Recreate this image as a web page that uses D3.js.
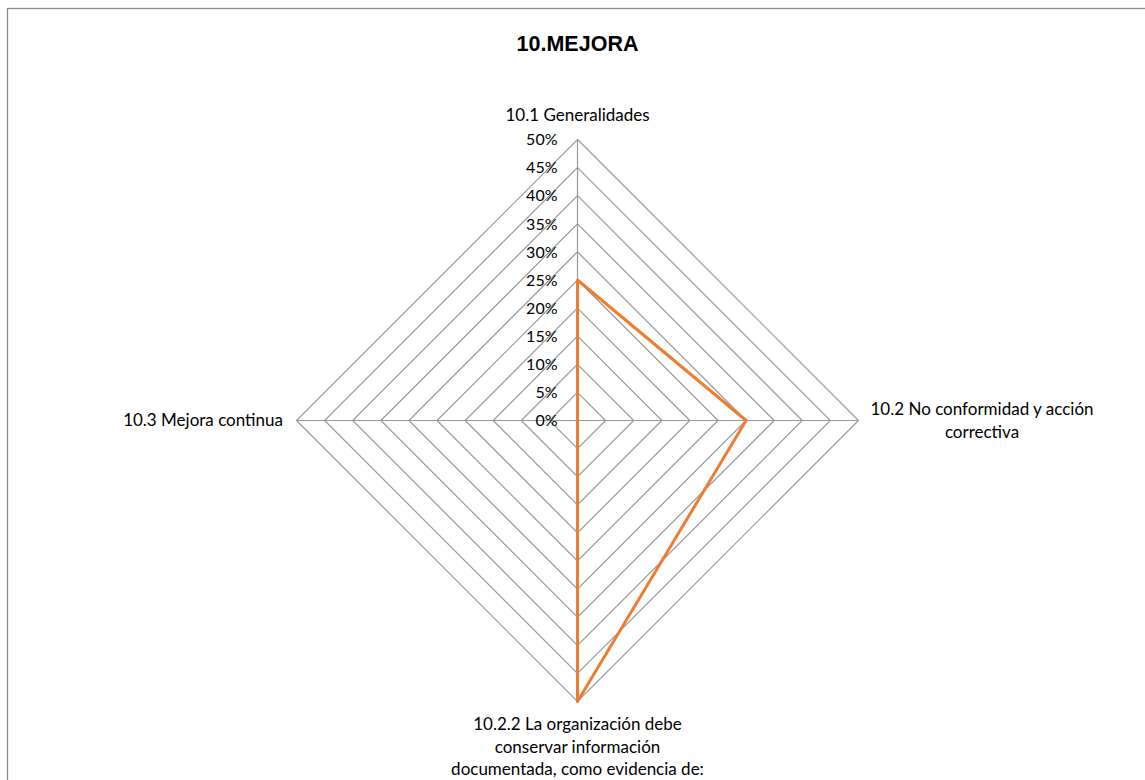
<!DOCTYPE html>
<html><head><meta charset="utf-8">
<script src="https://cdn.jsdelivr.net/npm/d3@7"></script>
<style>body{margin:0;background:#fff}svg{display:block}</style>
</head><body>
<svg id="c" width="1145" height="780"></svg>
<script>
const title = "10.MEJORA";
const categories = [
  ["10.1 Generalidades"],
  ["10.2 No conformidad y acción", "correctiva"],
  ["10.2.2 La organización debe", "conservar información", "documentada, como evidencia de:"],
  ["10.3 Mejora continua"]
];
const values = [0.25, 0.30, 0.50, 0.00];
const ticks = [0, 0.05, 0.10, 0.15, 0.20, 0.25, 0.30, 0.35, 0.40, 0.45, 0.50];

const svg = d3.select("#c");
const cx = 577.5, cy = 420.5, R = 281;
const r = d3.scaleLinear().domain([0, 0.5]).range([0, R]);
const ang = d3.scaleLinear().domain([0, categories.length]).range([0, 2 * Math.PI]);
const pt = (i, v) => [cx + r(v) * Math.sin(ang(i)), cy - r(v) * Math.cos(ang(i))];

svg.append("rect").attr("x", 7.5).attr("y", 8.5).attr("width", 1150).attr("height", 800)
  .attr("fill", "#fff").attr("stroke", "#8c8c8c").attr("stroke-width", 1.3);

svg.append("text").attr("x", cx).attr("y", 50.5).attr("text-anchor", "middle")
  .attr("font-family", "Liberation Sans, Arial, sans-serif").attr("font-weight", "bold")
  .attr("font-size", 21.5).attr("fill", "#000").text(title);

const gridColor = "#999999";
const line = d3.line();
// rings
ticks.filter(t => t > 0).forEach(t => {
  const pts = categories.map((c, i) => pt(i, t));
  svg.append("path").attr("d", line(pts) + "Z").attr("fill", "none")
    .attr("stroke", gridColor).attr("stroke-width", 1.2);
});
// spokes
categories.forEach((c, i) => {
  const [x, y] = pt(i, 0.5);
  svg.append("line").attr("x1", cx).attr("y1", cy).attr("x2", x).attr("y2", y)
    .attr("stroke", gridColor).attr("stroke-width", 1.2);
});

const font = "Lato, 'Open Sans', sans-serif";
// tick labels
ticks.forEach(t => {
  svg.append("text").attr("x", cx - 20).attr("y", cy - r(t)).attr("dy", "0.36em")
    .attr("text-anchor", "end").attr("font-family", font).attr("font-size", 16)
    .attr("fill", "#000").text(d3.format(".0%")(t));
});

// data
const dpts = values.map((v, i) => pt(i, v));
svg.append("path").attr("d", line(dpts) + "Z").attr("fill", "none")
  .attr("stroke", "#ED7D31").attr("stroke-width", 3).attr("stroke-linejoin", "round");

// category labels
const labelPos = [
  {x: cx, y: 121, anchor: "middle"},
  {x: 982, y: 415, anchor: "middle"},
  {x: cx, y: 730, anchor: "middle"},
  {x: 283, y: 426, anchor: "end"}
];
categories.forEach((lines, i) => {
  const p = labelPos[i];
  const t = svg.append("text").attr("text-anchor", p.anchor).attr("font-family", font)
    .attr("font-size", 17).attr("fill", "#000");
  lines.forEach((l, j) => t.append("tspan").attr("x", p.x).attr("y", p.y + j * 22.5).text(l));
});
</script>
</body></html>
